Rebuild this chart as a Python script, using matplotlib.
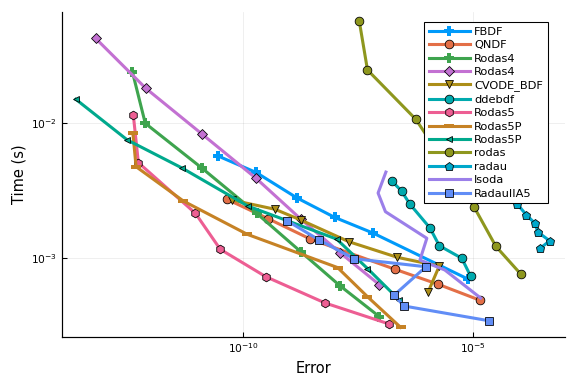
import numpy as np
import matplotlib
matplotlib.use("Agg")
import matplotlib.pyplot as plt
from matplotlib.ticker import LogFormatterMathtext, NullLocator

# ---- data (log10 of error / time) ----
fbdf_lerr = [-10.55, -9.72, -8.83, -8.01, -7.18, -5.12]
fbdf_ltime = [-2.243, -2.366, -2.556, -2.701, -2.817, -3.159]

qndf_lerr = [-10.35, -9.46, -8.54, -6.70, -5.76, -4.85]
qndf_ltime = [-2.566, -2.710, -2.862, -3.087, -3.199, -3.318]

rodas4a_lerr = [-12.41, -12.13, -10.90, -9.71, -8.75, -7.90, -7.04]
rodas4a_ltime = [-1.616, -2.000, -2.333, -2.670, -2.956, -3.209, -3.440]

rodas4b_lerr = [-13.21, -12.12, -10.89, -9.72, -8.75, -7.90, -7.04]
rodas4b_ltime = [-1.367, -1.739, -2.082, -2.410, -2.713, -2.962, -3.202]

cvode_lerr = [-10.25, -9.31, -8.75, -7.70, -6.65, -5.74, -5.98]
cvode_ltime = [-2.571, -2.640, -2.720, -2.882, -2.998, -3.063, -3.254]

ddebdf_lerr = [-6.77, -6.56, -6.38, -5.94, -5.74, -5.25, -5.06]
ddebdf_ltime = [-2.430, -2.504, -2.601, -2.780, -2.911, -3.005, -3.137]

rodas5_lerr = [-12.39, -12.28, -11.04, -10.50, -9.51, -8.22, -6.83]
rodas5_ltime = [-1.938, -2.293, -2.670, -2.938, -3.142, -3.338, -3.494]

rodas5pa_lerr = [-12.40, -12.33, -11.30, -9.91, -7.95, -7.30, -6.58]
rodas5pa_ltime = [-2.070, -2.323, -2.579, -2.827, -3.074, -3.291, -3.519]

rodas5pb_lerr = [-13.64, -12.52, -11.33, -9.90, -7.97, -7.30, -6.62]
rodas5pb_ltime = [-1.821, -2.124, -2.333, -2.616, -2.862, -3.081, -3.312]

rodas_lerr = [-7.48, -7.30, -6.25, -4.98, -4.51, -3.97]
rodas_ltime = [-1.236, -1.603, -1.970, -2.625, -2.916, -3.122]

radau_lerr = [-4.05, -3.85, -3.66, -3.60, -3.34, -3.54]
radau_ltime = [-2.599, -2.681, -2.745, -2.809, -2.875, -2.929]

lsoda_lerr = [-6.90, -7.07, -6.91, -6.01, -6.16, -5.62, -4.84]
lsoda_ltime = [-2.363, -2.519, -2.658, -2.856, -3.018, -3.092, -3.301]

radauiia5_lerr = [-9.04, -8.35, -7.59, -6.03, -6.72, -6.51, -4.66]
radauiia5_ltime = [-2.727, -2.869, -3.008, -3.068, -3.279, -3.360, -3.470]

labels = ["FBDF", "QNDF", "Rodas4", "Rodas4", "CVODE_BDF", "ddebdf", "Rodas5",
          "Rodas5P", "Rodas5P", "rodas", "radau", "lsoda", "RadauIIA5"]

series = [
    (fbdf_lerr, fbdf_ltime, "#009AFA", "P"),
    (qndf_lerr, qndf_ltime, "#E36F47", "o"),
    (rodas4a_lerr, rodas4a_ltime, "#3EA44E", "P"),
    (rodas4b_lerr, rodas4b_ltime, "#C371D2", "D"),
    (cvode_lerr, cvode_ltime, "#AC8E18", "v"),
    (ddebdf_lerr, ddebdf_ltime, "#00AAAE", "o"),
    (rodas5_lerr, rodas5_ltime, "#ED5E93", "h"),
    (rodas5pa_lerr, rodas5pa_ltime, "#C68225", "_"),
    (rodas5pb_lerr, rodas5pb_ltime, "#00A98D", "<"),
    (rodas_lerr, rodas_ltime, "#8E971E", "o"),
    (radau_lerr, radau_ltime, "#00A8CB", "p"),
    (lsoda_lerr, lsoda_ltime, "#9B7FE9", None),
    (radauiia5_lerr, radauiia5_ltime, "#618DF6", "s"),
]

fig = plt.figure(figsize=(6, 4), dpi=96)
ax = fig.add_axes([62 / 576, 1 - 337 / 384, (565 - 62) / 576, (337 - 11.7) / 384])

for (lx, ly, col, mk), lab in zip(series, labels):
    x = 10.0 ** np.array(lx)
    y = 10.0 ** np.array(ly)
    kw = dict(color=col, lw=2.3, label=lab, solid_joinstyle="round")
    if mk is None:
        ax.plot(x, y, **kw)
    elif mk == "P":
        ax.plot(x, y, marker="P", ms=7, mec=col, mfc=col, mew=0, **kw)
    elif mk == "_":
        ax.plot(x, y, marker="_", ms=7, mec=col, mew=3, **kw)
    elif mk == "<":
        ax.plot(x, y, marker="<", ms=4.5, mec="black", mfc=col, mew=0.6, **kw)
    elif mk == "D":
        ax.plot(x, y, marker="D", ms=5.5, mec="black", mfc=col, mew=0.6, **kw)
    else:
        ax.plot(x, y, marker=mk, ms=6.5, mec="black", mfc=col, mew=0.6, **kw)

ax.set_xscale("log")
ax.set_yscale("log")
ax.set_xlim(10 ** -13.94, 10 ** -3.007)
ax.set_ylim(10 ** -3.591, 10 ** -1.169)

ax.set_xticks([1e-10, 1e-5])
ax.set_yticks([1e-3, 1e-2])
ax.xaxis.set_major_formatter(LogFormatterMathtext())
ax.yaxis.set_major_formatter(LogFormatterMathtext())
ax.xaxis.set_minor_locator(NullLocator())
ax.yaxis.set_minor_locator(NullLocator())
ax.tick_params(direction="in", length=4, width=0.8, labelsize=8, color="black")

ax.grid(True, color="black", alpha=0.08, lw=0.6)
for s in ["top", "right"]:
    ax.spines[s].set_visible(False)
for s in ["left", "bottom"]:
    ax.spines[s].set_linewidth(0.9)

ax.set_xlabel("Error", fontsize=11)
ax.set_ylabel("Time (s)", fontsize=11)

leg = ax.legend(loc="upper right", bbox_to_anchor=((547.7 - 62) / 503, 1 - (22.3 - 11.7) / 325.3),
                fontsize=8.5, frameon=True, fancybox=False, framealpha=1.0,
                edgecolor="black", handlelength=3.6, handletextpad=0.4,
                labelspacing=0.3, borderpad=0.4, borderaxespad=0)
leg.get_frame().set_linewidth(0.8)

fig.savefig("out.png", dpi=96)
